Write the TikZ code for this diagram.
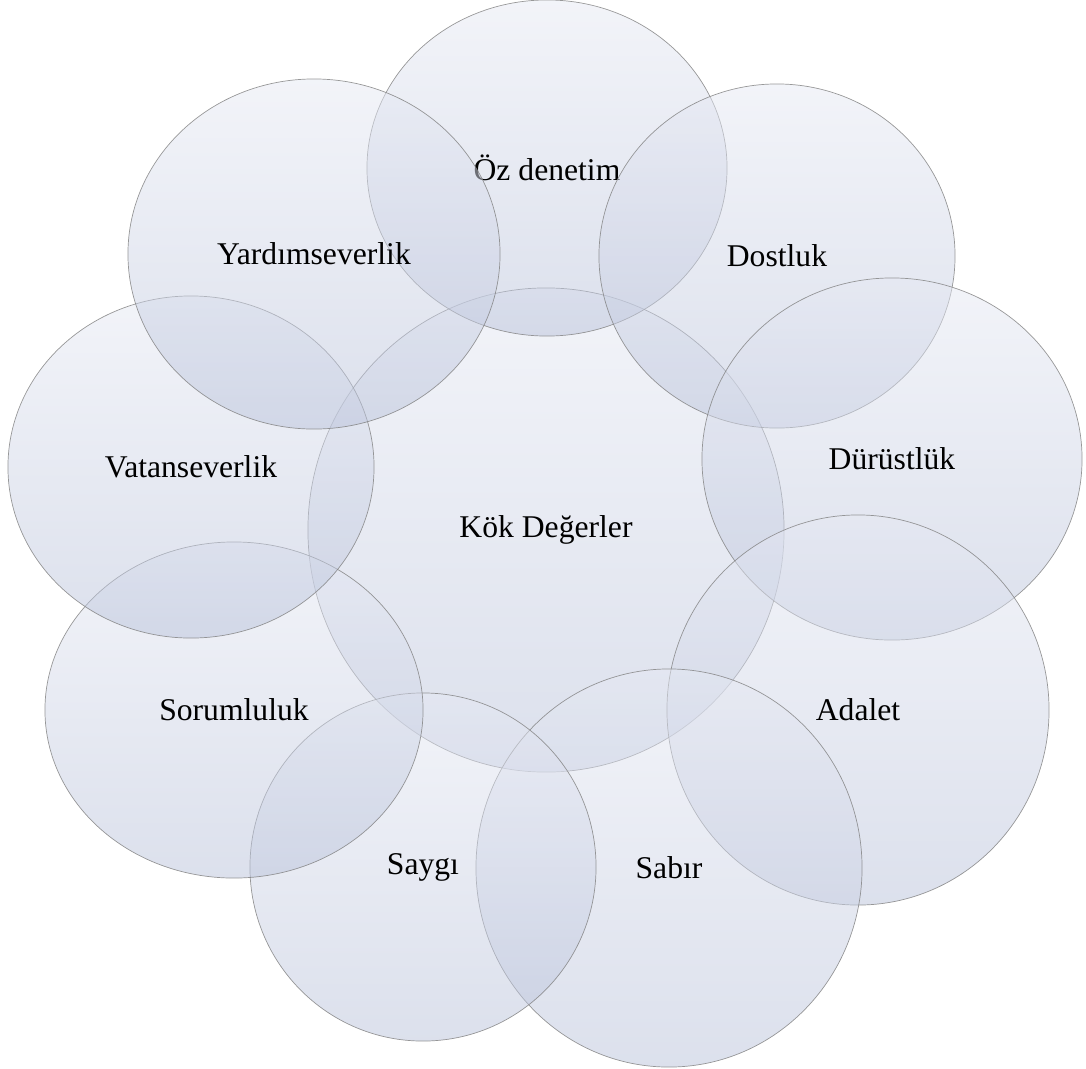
\documentclass[tikz,border=0pt]{standalone}
\usepackage{fontspec}
\setmainfont{Liberation Serif}
\usepackage{xcolor}
\usetikzlibrary{shapes.geometric}

\definecolor{valtop}{HTML}{E6E9F3}
\definecolor{valbottom}{HTML}{B9C2DA}

\begin{document}
\begin{tikzpicture}[x=0.025cm, y=-0.025cm,
    value/.style 2 args={ellipse, draw=gray, draw opacity=0.8, line width=0.5pt,
        top color=valtop, bottom color=valbottom, fill opacity=0.5, text opacity=1,
        inner sep=0pt, minimum width=#1*0.05cm, minimum height=#2*0.05cm,
        font=\fontsize{22.5}{27}\selectfont}]

    \useasboundingbox (0,0) rectangle (1086,1068);

    \node[value={238}{242}] (kok) at (546,530) {Kök Değerler};
    \node[value={180}{168}] (oz) at (547,168) {Öz denetim};
    \node[value={178}{172}] (dostluk) at (777,256) {Dostluk};
    \node[value={190}{181}] (durust) at (892,459) {Dürüstlük};
    \node[value={191}{195}] (adalet) at (858,710) {Adalet};
    \node[value={193}{199}] (sabir) at (669,868) {Sabır};
    \node[value={173}{174}] (saygi) at (423,867) {Saygı};
    \node[value={189}{168}] (sorum) at (234,710) {Sorumluluk};
    \node[value={183}{171}] (vatan) at (191,467) {Vatanseverlik};
    \node[value={186}{175}] (yardim) at (314,254) {Yardımseverlik};
\end{tikzpicture}
\end{document}
